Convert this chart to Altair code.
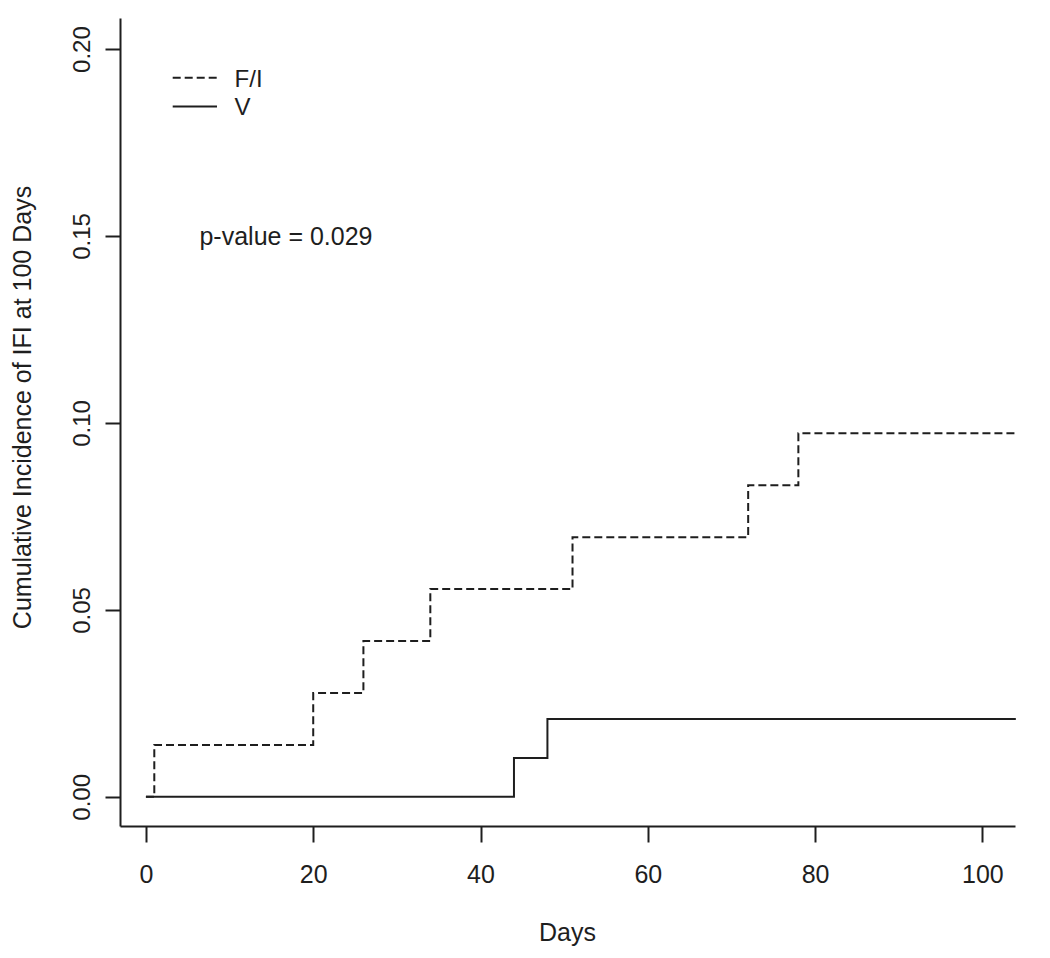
import altair as alt
import pandas as pd

# Step-function data (cumulative incidence)
fi_days = [0, 1, 20, 26, 34, 51, 72, 78, 104]
fi_vals = [0.0, 0.01389, 0.02778, 0.04167, 0.05556, 0.06944, 0.08333, 0.09722, 0.09722]
v_days = [0, 44, 48, 104]
v_vals = [0.0, 0.01042, 0.02083, 0.02083]

groups = ["F/I", "V"]
x_ticks = [0, 20, 40, 60, 80, 100]
y_ticks = [0.0, 0.05, 0.10, 0.15, 0.20]

# legend / annotation positions (data coordinates)
leg_x0, leg_x1, leg_tx = 3.2, 8.5, 10.6
leg_line_y = [0.1923, 0.1846]
leg_text_y = [0.1918, 0.1842]
pval_text = "p-value = 0.029"
pval_x, pval_y = 6.4, 0.1497

FONT = "Liberation Sans"
INK = "#1e1e1e"

rows = [{"day": d, "ci": v, "group": "F/I", "ord": i} for i, (d, v) in enumerate(zip(fi_days, fi_vals))]
rows += [{"day": d, "ci": v, "group": "V", "ord": i} for i, (d, v) in enumerate(zip(v_days, v_vals))]
df = pd.DataFrame(rows)

xscale = alt.Scale(domain=[-3.1, 103.9], nice=False, zero=False)
yscale = alt.Scale(domain=[-0.0078, 0.2083], nice=False, zero=False)
dash = alt.Scale(domain=groups, range=[[8, 4], [1, 0]])

xaxis = alt.Axis(
    values=x_ticks, format="d", title="Days", grid=False,
    domainColor=INK, domainWidth=2, tickColor=INK, tickWidth=2, tickSize=16,
    labelFont=FONT, labelFontSize=25, labelColor=INK, labelPadding=20,
    labelBaseline="top",
    titleFont=FONT, titleFontSize=25, titleFontWeight="normal", titleColor=INK,
    titleX=447, titleY=106, titleBaseline="middle", titleAlign="center",
)
yaxis = alt.Axis(
    values=y_ticks, format=".2f", title="Cumulative Incidence of IFI at 100 Days", grid=False,
    domainColor=INK, domainWidth=2, tickColor=INK, tickWidth=2, tickSize=15,
    labelFont=FONT, labelFontSize=24, labelColor=INK, labelPadding=16,
    labelAngle=270, labelAlign="center", labelBaseline="alphabetic",
    titleFont=FONT, titleFontSize=25, titleFontWeight="normal", titleColor=INK,
    titleAngle=270, titleX=-98, titleY=389, titleAlign="center", titleBaseline="middle",
)

lines = alt.Chart(df).mark_line(interpolate="step-after", color=INK, strokeWidth=2).encode(
    x=alt.X("day:Q", scale=xscale, axis=xaxis),
    y=alt.Y("ci:Q", scale=yscale, axis=yaxis),
    strokeDash=alt.StrokeDash("group:N", scale=dash, legend=None),
    order="ord:Q",
    detail="group:N",
)

leg_df = pd.DataFrame({
    "group": groups,
    "x0": [leg_x0, leg_x0],
    "x1": [leg_x1, leg_x1],
    "ly": leg_line_y,
    "tx": [leg_tx, leg_tx],
    "ty": leg_text_y,
})

leg_lines = alt.Chart(leg_df).mark_rule(color=INK, strokeWidth=2).encode(
    x=alt.X("x0:Q", scale=xscale),
    x2="x1:Q",
    y=alt.Y("ly:Q", scale=yscale),
    strokeDash=alt.StrokeDash("group:N", scale=dash, legend=None),
)
leg_text = alt.Chart(leg_df).mark_text(
    align="left", baseline="middle", font=FONT, fontSize=24, color=INK
).encode(
    x=alt.X("tx:Q", scale=xscale),
    y=alt.Y("ty:Q", scale=yscale),
    text="group:N",
)

pv_df = pd.DataFrame({"x": [pval_x], "y": [pval_y], "t": [pval_text]})
pval = alt.Chart(pv_df).mark_text(
    align="left", baseline="middle", font=FONT, fontSize=25, color=INK
).encode(
    x=alt.X("x:Q", scale=xscale),
    y=alt.Y("y:Q", scale=yscale),
    text="t:N",
)

chart = alt.layer(lines, leg_lines, leg_text, pval).properties(
    width=895, height=808,
    autosize=alt.AutoSizeParams(type="none"),
    padding={"left": 112, "top": 10, "right": 27, "bottom": 124},
    background="white",
).configure_view(stroke=None)

chart.save("out.html", embed_options={"renderer": "svg", "actions": False})
